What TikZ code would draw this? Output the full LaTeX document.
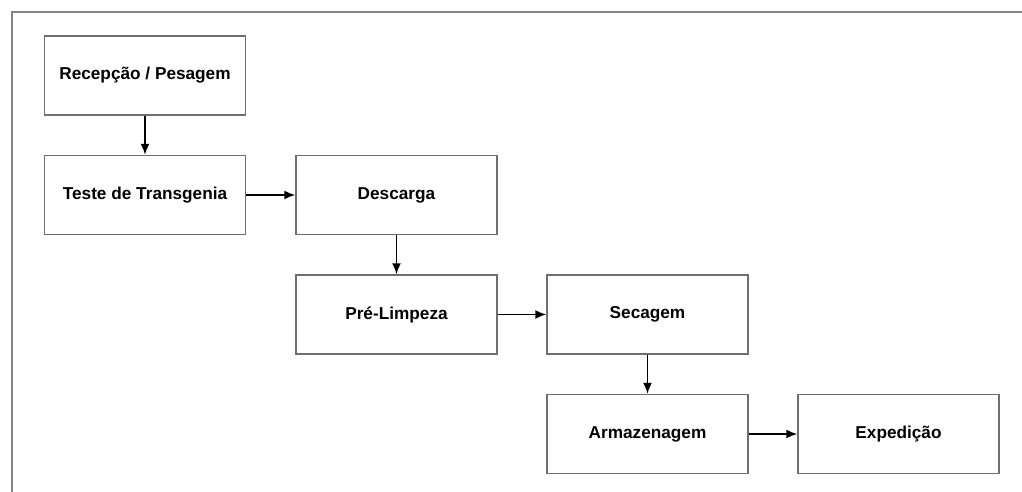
\documentclass[tikz,border=0pt]{standalone}
\usepackage{fontspec}
\setmainfont{Liberation Sans}
\usepackage{xcolor}
\usepackage{tikz}
\usetikzlibrary{arrows.meta}
\definecolor{boxgray}{HTML}{6E6E6E}
\definecolor{framegray}{HTML}{858585}
\tikzset{
    etapa/.style={draw=boxgray, line width=0.8pt, fill=white, minimum width=4.02cm, minimum height=1.58cm, inner sep=0pt, font=\fontsize{9.8}{11.5}\selectfont\bfseries},
    seta/.style={-{Latex[length=2.2mm,width=1.8mm]}, line width=1pt, black}}

\begin{document}
\begin{tikzpicture}[x=0.02cm,y=-0.02cm]
\useasboundingbox (0,0) rectangle (1022,492);
\draw[framegray, line width=1.1pt] (1022,12) -- (12,12) -- (12,492);
\coordinate (C1) at (145,75.5);
\coordinate (C2) at (145,195);
\coordinate (C3) at (396.5,195);
\coordinate (C4) at (396.5,314.5);
\coordinate (C5) at (647.5,314.5);
\coordinate (C6) at (647.5,434);
\coordinate (C7) at (898.5,434);
\node[etapa] (Recepcao) at (C1) {Recepção / Pesagem};
\node[etapa] (Teste) at (C2) {Teste de Transgenia};
\node[etapa] (Descarga) at (C3) {Descarga};
\node[etapa] (PreLimpeza) at (C4) {Pré-Limpeza};
\node[etapa] (Secagem) at (C5) {Secagem};
\node[etapa] (Armazenagem) at (C6) {Armazenagem};
\node[etapa] (Expedicao) at (C7) {Expedição};
\draw[seta] (Recepcao) -- (Teste);
\draw[seta] (Teste) -- (Descarga);
\draw[seta] (Descarga) -- (PreLimpeza);
\draw[seta] (PreLimpeza) -- (Secagem);
\draw[seta] (Secagem) -- (Armazenagem);
\draw[seta] (Armazenagem) -- (Expedicao);
\end{tikzpicture}
\end{document}
